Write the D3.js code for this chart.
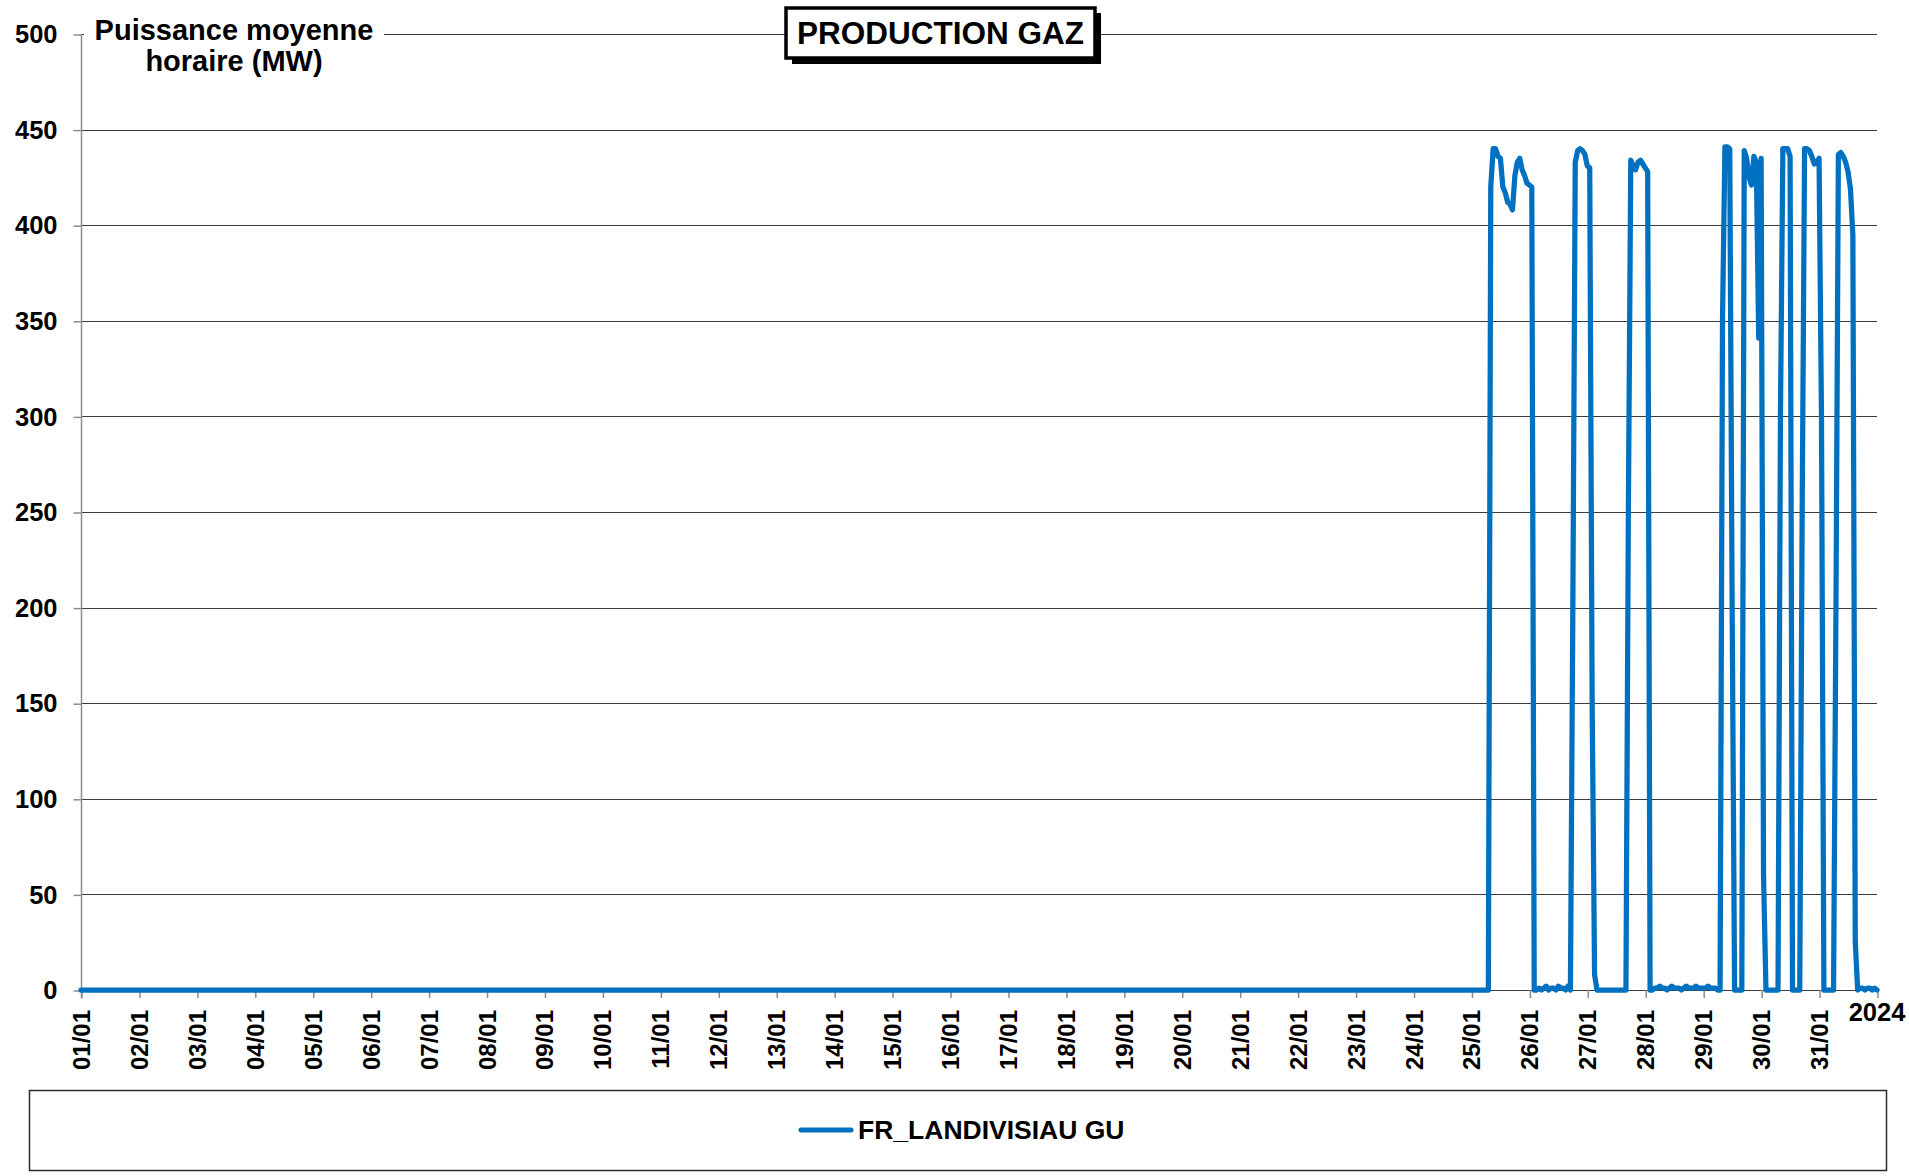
<!DOCTYPE html>
<html><head><meta charset="utf-8">
<script src="https://cdn.jsdelivr.net/npm/d3@7"></script>
<style>
html,body{margin:0;padding:0;background:#fff;}
svg{display:block;font-family:"Liberation Sans",Arial,sans-serif;font-weight:bold;}
</style></head><body>
<svg id="chart" width="1909" height="1176"></svg>
<script>
// ---------------- data ----------------
const chartTitle = "PRODUCTION GAZ";
const yAxisTitle = ["Puissance moyenne", "horaire (MW)"];
const seriesName = "FR_LANDIVISIAU GU";
const yTicks = [0, 50, 100, 150, 200, 250, 300, 350, 400, 450, 500];
const xTickLabels = ["01/01","02/01","03/01","04/01","05/01","06/01","07/01","08/01","09/01","10/01",
  "11/01","12/01","13/01","14/01","15/01","16/01","17/01","18/01","19/01","20/01",
  "21/01","22/01","23/01","24/01","25/01","26/01","27/01","28/01","29/01","30/01","31/01"];
const lastTickLabel = "2024";
const periodStart = "2024-01-01T00:00Z";
const periodEnd = "2024-02-01T00:00Z";

// idle (0 MW) from 01/01 00:00 until the first hourly day below
const idleValue = 0;
// hourly average power (MW), hours 00..23
const jan25 = [0,0,0,0,0,0,0,0,420,440,440,436,435,420,417,412,411,408,426,433,435,429,426,422];
const jan26 = [421,420,0,0,1,0,1,2,0,1,1,0,2,1,1,0,2,0,200,433,439,440,439,437];
const jan27 = [431,430,150,8,0,0,0,0,0,0,0,0,0,0,0,0,0,250,434,431,429,433,434,432];
const jan28 = [430,428,0,0,1,1,2,1,1,0,1,2,1,1,1,0,1,2,1,1,1,2,1,1];
const jan29 = [1,1,2,1,1,1,0,0,350,441,441,440,200,0,0,0,0,439,435,425,421,436,433,341];
const jan30 = [435,60,0,0,0,0,0,0,300,440,440,440,436,0,0,0,0,250,440,440,439,436,432,433];
const jan31 = [435,300,0,0,0,0,0,200,437,438,436,433,428,419,395,25,0,1,1,0,1,1,0,1];
const feb01 = [0];
const hourlyDays = [
  ["2024-01-25", jan25], ["2024-01-26", jan26], ["2024-01-27", jan27], ["2024-01-28", jan28],
  ["2024-01-29", jan29], ["2024-01-30", jan30], ["2024-01-31", jan31], ["2024-02-01", feb01]
];

// ---------------- build ----------------
const points = [{t: new Date(periodStart), v: idleValue}];
hourlyDays.forEach(([day, vals]) => {
  const d0 = new Date(day + "T00:00Z");
  vals.forEach((v, h) => points.push({t: new Date(d0.getTime() + h * 3600e3), v}));
});

const svg = d3.select("#chart");
const L = 81, R = 1877, T = 34, B = 990;
const x = d3.scaleUtc().domain([new Date(periodStart), new Date(periodEnd)]).range([L, R]);
const y = d3.scaleLinear().domain([0, 500]).range([B, T]);

const gridColor = "#3a3a3a", axisColor = "#8c8c8c", lineColor = "#0070C0";

// horizontal gridlines
svg.append("g").selectAll("line").data(yTicks).join("line")
  .attr("x1", L).attr("x2", R)
  .attr("y1", d => Math.round(y(d)) + 0.5).attr("y2", d => Math.round(y(d)) + 0.5)
  .attr("stroke", gridColor).attr("stroke-width", 1);

// y axis
const yAxis = d3.axisLeft(y).tickValues(yTicks).tickSize(8).tickPadding(16);
const gy = svg.append("g").attr("transform", `translate(${L + 0.5},0.5)`).call(yAxis);
gy.select(".domain").attr("stroke", axisColor).attr("stroke-width", 1.5).attr("d", `M0,${T - 0.5}V${B + 8}`);
gy.selectAll(".tick line").attr("stroke", axisColor).attr("stroke-width", 1.5);
gy.selectAll(".tick text").attr("fill", "#000").attr("font-size", 25.5)
  .attr("font-family", "Liberation Sans, Arial, sans-serif").attr("font-weight", "bold");

// x axis ticks (one per day)
const dayTicks = d3.utcDay.range(new Date(periodStart), d3.utcDay.offset(new Date(periodEnd), 1));
const xAxis = d3.axisBottom(x).tickValues(dayTicks).tickSize(8).tickFormat("");
const gx = svg.append("g").attr("transform", `translate(0.5,${B})`).call(xAxis);
gx.select(".domain").remove();
gx.selectAll(".tick line").attr("stroke", axisColor).attr("stroke-width", 1.5);

// x tick labels (rotated)
svg.append("g").selectAll("text").data(xTickLabels).join("text")
  .attr("transform", (d, i) => `translate(${x(dayTicks[i]) + 9},1010) rotate(-90)`)
  .attr("text-anchor", "end").attr("font-size", 24).attr("fill", "#000")
  .text(d => d);
svg.append("text").attr("x", x(new Date(periodEnd))).attr("y", 1021)
  .attr("text-anchor", "middle").attr("font-size", 25.5).attr("fill", "#000").text(lastTickLabel);

// series line
const line = d3.line().x(d => x(d.t)).y(d => y(d.v));
svg.append("path").datum(points).attr("d", line)
  .attr("fill", "none").attr("stroke", lineColor).attr("stroke-width", 5.25)
  .attr("stroke-linejoin", "round").attr("stroke-linecap", "round");

// y axis title (white background over the top gridline)
svg.append("rect").attr("x", 84).attr("y", 12).attr("width", 300).attr("height", 62).attr("fill", "#fff");
svg.append("text").attr("x", 234).attr("y", 39.5).attr("text-anchor", "middle")
  .attr("font-size", 29).attr("fill", "#000").text(yAxisTitle[0]);
svg.append("text").attr("x", 234).attr("y", 71).attr("text-anchor", "middle")
  .attr("font-size", 29).attr("fill", "#000").text(yAxisTitle[1]);

// title box with shadow
svg.append("rect").attr("x", 792).attr("y", 13).attr("width", 309).attr("height", 51).attr("fill", "#000");
svg.append("rect").attr("x", 786).attr("y", 8).attr("width", 309).attr("height", 50)
  .attr("fill", "#fff").attr("stroke", "#000").attr("stroke-width", 3.5);
svg.append("text").attr("x", 940.5).attr("y", 44).attr("text-anchor", "middle")
  .attr("font-size", 31.5).attr("fill", "#000").text(chartTitle);

// legend
svg.append("rect").attr("x", 29.5).attr("y", 1090.5).attr("width", 1857).attr("height", 80)
  .attr("fill", "#fff").attr("stroke", "#2a2a2a").attr("stroke-width", 1.5);
svg.append("line").attr("x1", 801).attr("x2", 851).attr("y1", 1130).attr("y2", 1130)
  .attr("stroke", lineColor).attr("stroke-width", 5).attr("stroke-linecap", "round");
svg.append("text").attr("x", 858).attr("y", 1139).attr("font-size", 26.5).attr("fill", "#000").text(seriesName);
</script>
</body></html>
